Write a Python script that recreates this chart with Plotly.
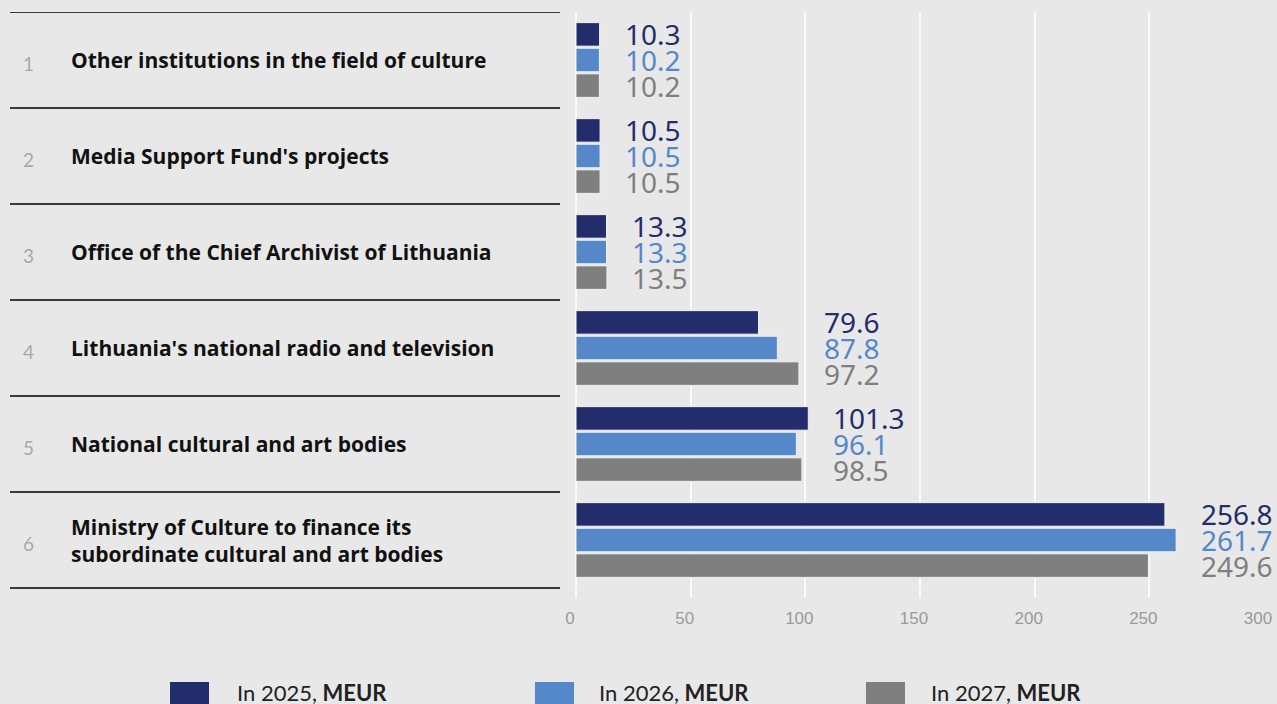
import plotly.graph_objects as go

# ---------------- data ----------------
categories = [
    "Other institutions in the field of culture",
    "Media Support Fund's projects",
    "Office of the Chief Archivist of Lithuania",
    "Lithuania's national radio and television",
    "National cultural and art bodies",
    "Ministry of Culture to finance its<br>subordinate cultural and art bodies",
]
row_numbers = ["1", "2", "3", "4", "5", "6"]
series_names = ["In 2025, <b>MEUR</b>", "In 2026, <b>MEUR</b>", "In 2027, <b>MEUR</b>"]
values_2025 = [10.3, 10.5, 13.3, 79.6, 101.3, 256.8]
values_2026 = [10.2, 10.5, 13.3, 87.8, 96.1, 261.7]
values_2027 = [10.2, 10.5, 13.5, 97.2, 98.5, 249.6]
x_ticks = [0, 50, 100, 150, 200, 250, 300]

# ---------------- style ----------------
W, H = 1277, 704
BG = "#e8e8e8"
colors = ["#242d6c", "#5588c8", "#7f7f80"]
series = [values_2025, values_2026, values_2027]

ML, MR, MT, MB = 576, 13, 12, 106
PW, PH = W - ML - MR, H - MT - MB


def px_x(px):
    return (px - ML) / PW


def px_y(py):
    return (H - MB - py) / PH


fig = go.Figure()
for name, vals, col in zip(series_names, series, colors):
    fig.add_trace(go.Bar(
        y=categories, x=vals, orientation="h", name=name,
        marker=dict(color=col, line=dict(color="#f2f2f2", width=1)),
        showlegend=False, hoverinfo="x+y",
    ))

annotations = []
shapes = []
offsets = [-26, 0, 26]
for i, cat in enumerate(categories):
    gmax = max(s[i] for s in series)
    for j, (vals, col) in enumerate(zip(series, colors)):
        annotations.append(dict(
            x=gmax, y=cat, xref="x", yref="y", xanchor="left", yanchor="middle",
            xshift=23, yshift=-offsets[j], showarrow=False,
            text=f"{vals[i]:.1f}",
            font=dict(family="Noto Sans, Liberation Sans", size=28, color=col),
        ))
    annotations.append(dict(
        x=px_x(69), y=cat, xref="paper", yref="y", xanchor="left", yanchor="middle",
        showarrow=False, text=f"<b>{cat}</b>", align="left",
        font=dict(family="Open Sans, Liberation Sans", size=21, color="#111111"),
    ))
    annotations.append(dict(
        x=px_x(28), y=cat, xref="paper", yref="y", xanchor="center", yanchor="middle",
        showarrow=False, text=row_numbers[i], yshift=-3,
        font=dict(family="Lato, Liberation Sans", size=19, color="#a8a8a8"),
    ))

# row separator lines on the left
for k in range(len(categories) + 1):
    shapes.append(dict(
        type="line", xref="paper", yref="y", x0=px_x(10), x1=px_x(560),
        y0=k - 0.5, y1=k - 0.5, line=dict(color="#3a3a3a", width=2),
    ))

# custom legend
leg_sq = [170, 535, 866]
leg_tx = [235, 597, 929]
for name, col, sx, tx in zip(series_names, colors, leg_sq, leg_tx):
    shapes.append(dict(
        type="rect", xref="paper", yref="paper", x0=px_x(sx), x1=px_x(sx + 39),
        y0=px_y(704), y1=px_y(682), fillcolor=col, line=dict(width=0),
    ))
    annotations.append(dict(
        x=px_x(tx), y=px_y(692), xref="paper", yref="paper", xanchor="left",
        yanchor="middle", showarrow=False, text=name,
        font=dict(family="Lato, Open Sans", size=22, color="#222222"),
    ))

fig.update_layout(
    width=W, height=H,
    paper_bgcolor=BG, plot_bgcolor=BG,
    margin=dict(l=ML, r=MR, t=MT, b=MB, autoexpand=False),
    barmode="group", bargap=0.2, bargroupgap=0.08,
    annotations=annotations, shapes=shapes,
    showlegend=False,
    xaxis=dict(
        range=[0, 300], tickvals=x_ticks, showgrid=True, gridcolor="#fafafa",
        gridwidth=1.5, zeroline=True, zerolinecolor="#fafafa", zerolinewidth=2,
        showline=False, ticks="", ticklabelstandoff=8, ticklabeloverflow="allow",
        ticklabelshift=-6, automargin=False,
        tickfont=dict(family="Liberation Sans, Arial", size=17, color="#9a9a9a"),
    ),
    yaxis=dict(
        type="category", categoryorder="array", categoryarray=categories,
        range=[5.604, -0.5], showticklabels=False, showgrid=False,
        zeroline=False, showline=False, ticks="", automargin=False,
    ),
)

fig.write_html(
    "out.html",
    config={"displayModeBar": False},
    post_script="document.body.style.margin='0';document.body.style.background='#e8e8e8';"
                "document.body.style.overflow='hidden';",
)
